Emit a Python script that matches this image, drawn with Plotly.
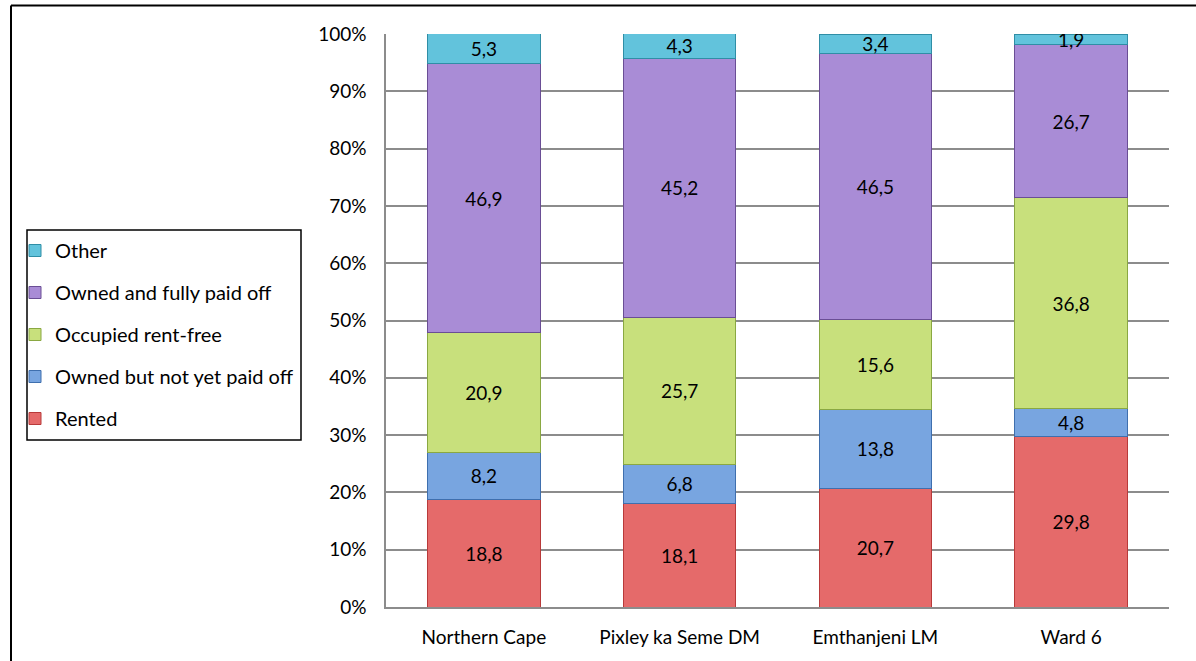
import plotly.graph_objects as go

# Tenure status by area (percent of households)
areas = ["Northern Cape", "Pixley ka Seme DM", "Emthanjeni LM", "Ward 6"]
rented = [18.8, 18.1, 20.7, 29.8]
owned_not_paid = [8.2, 6.8, 13.8, 4.8]
rent_free = [20.9, 25.7, 15.6, 36.8]
owned_paid = [46.9, 45.2, 46.5, 26.7]
other = [5.3, 4.3, 3.4, 1.9]

series = [
    ("Rented", rented, "#e56a6a", "#b83a3a"),
    ("Owned but not yet paid off", owned_not_paid, "#78a5e0", "#3f6fae"),
    ("Occupied rent-free", rent_free, "#c8e07c", "#8aa842"),
    ("Owned and fully paid off", owned_paid, "#a98cd6", "#6a4e95"),
    ("Other", other, "#62c3dc", "#2f8ea6"),
]

FONT = "Lato, 'Open Sans', sans-serif"

# plot area in pixels, used to place paper-referenced decorations
L, R, T, B = 386, 1169, 34, 607
W, H = R - L, B - T


def px_x(px):
    return (px - L) / W


def px_y(py):
    return (B - py) / H


fig = go.Figure()
n = len(series)
for i, (name, vals, col, edge) in enumerate(series):
    fig.add_trace(go.Bar(
        name=name,
        x=areas,
        y=vals,
        legendgroup=name,
        legendrank=n - i,
        marker=dict(color=col, line=dict(color=edge, width=1)),
        text=[f"{v:.1f}".replace(".", ",") for v in vals],
        texttemplate="%{text}",
        textposition="inside",
        insidetextanchor="middle",
        textangle=0,
        constraintext="none",
        textfont=dict(family=FONT, size=19, color="#000000"),
        hoverinfo="skip",
    ))

shapes = [
    # legend box
    dict(type="rect", xref="paper", yref="paper",
         x0=px_x(27), x1=px_x(301), y0=px_y(440), y1=px_y(230),
         line=dict(color="#000000", width=1.5), fillcolor="rgba(0,0,0,0)"),
    # outer frame (left and top edges)
    dict(type="line", xref="paper", yref="paper",
         x0=px_x(11), x1=px_x(11), y0=px_y(700), y1=px_y(5.5),
         line=dict(color="#000000", width=2)),
    dict(type="line", xref="paper", yref="paper",
         x0=px_x(11), x1=px_x(1250), y0=px_y(5.5), y1=px_y(5.5),
         line=dict(color="#000000", width=2)),
]

fig.update_layout(
    barmode="stack",
    bargap=0.425,
    width=1196,
    height=661,
    margin=dict(l=L, r=1196 - R, t=T, b=661 - B),
    paper_bgcolor="#ffffff",
    plot_bgcolor="#ffffff",
    font=dict(family=FONT, size=19, color="#000000"),
    uniformtext=dict(minsize=19, mode="show"),
    showlegend=True,
    legend=dict(
        x=px_x(15), y=px_y(231), xanchor="left", yanchor="top",
        traceorder="grouped", tracegroupgap=13,
        font=dict(family=FONT, size=20, color="#000000"),
        bgcolor="rgba(0,0,0,0)", borderwidth=0, itemwidth=30,
    ),
    shapes=shapes,
    xaxis=dict(
        showgrid=False, showline=True, linecolor="#8c8c8c", linewidth=1.5,
        ticks="", ticklabelstandoff=12,
        tickfont=dict(family=FONT, size=19, color="#000000"),
    ),
    yaxis=dict(
        range=[0, 100], dtick=10, ticksuffix="%",
        showgrid=True, gridcolor="#8c8c8c", gridwidth=1.5,
        showline=True, linecolor="#8c8c8c", linewidth=1.5,
        zeroline=False, ticks="", ticklabelstandoff=14,
        tickfont=dict(family=FONT, size=19, color="#000000"),
    ),
)

fig.write_html("out.html")
